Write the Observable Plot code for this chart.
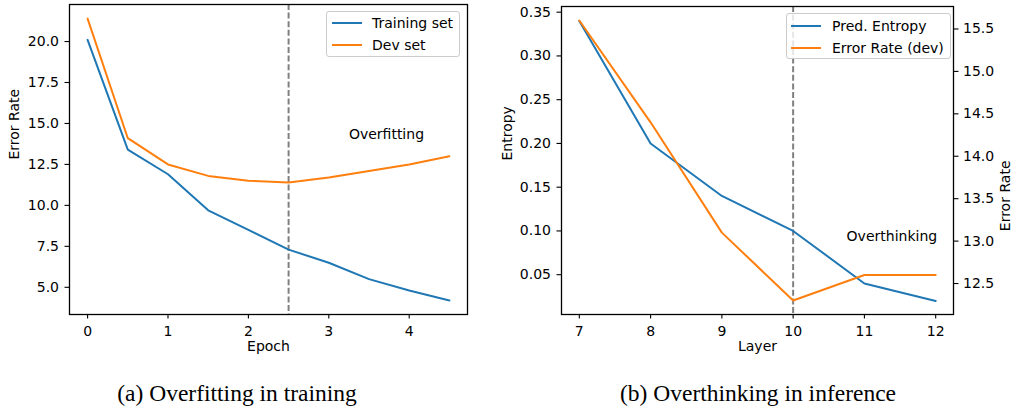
<!DOCTYPE html>
<html>
<head>
<meta charset="utf-8">
<script src="https://cdn.jsdelivr.net/npm/d3@7"></script>
<script src="https://cdn.jsdelivr.net/npm/@observablehq/plot@0.6"></script>
<style>
  html, body { margin: 0; padding: 0; background: #fff; }
  #root { position: relative; width: 1017px; height: 408px; background: #fff; overflow: hidden; font-family: "DejaVu Sans", sans-serif; }
  .panel { position: absolute; top: 0; }
  .legend { position: absolute; box-sizing: border-box; border: 1px solid #cccccc; border-radius: 3px; background: rgba(255,255,255,0.8); font-size: 14px; color: #000; }
  .legend .row { position: absolute; left: 0; height: 20px; line-height: 20px; white-space: nowrap; }
  .legend .sw { position: absolute; width: 30px; height: 2px; top: 9px; }
  .legend .lbl { position: absolute; }
  .caption { position: absolute; font-family: "Liberation Serif", serif; font-size: 23.5px; line-height: 26px; color: #000; white-space: nowrap; transform: translateX(-50%); }
</style>
</head>
<body>
<div id="root">
  <div id="a" class="panel" style="left:0px"></div>
  <div id="b1" class="panel" style="left:490px"></div>
  <div id="b2" class="panel" style="left:490px"></div>
</div>
<script>
// ---- data: panel (a) ----
const epochs = [0, 0.5, 1, 1.5, 2, 2.5, 3, 3.5, 4, 4.5];
const trainErr = [20.1, 13.4, 11.9, 9.7, 8.5, 7.3, 6.5, 5.5, 4.8, 4.2];
const devErr = [21.4, 14.1, 12.5, 11.8, 11.5, 11.4, 11.7, 12.1, 12.5, 13.0];
const epochTicks = [0, 1, 2, 3, 4];
const errTicksA = [5, 7.5, 10, 12.5, 15, 17.5, 20];
const seriesA = ["Training set", "Dev set"];
const overfitEpoch = 2.5;

// ---- data: panel (b) ----
const layers = [7, 8, 9, 10, 11, 12];
const predEntropy = [0.34, 0.20, 0.14, 0.10, 0.04, 0.02];
const layerDevErr = [15.6, 14.4, 13.1, 12.3, 12.6, 12.6];
const layerTicks = [7, 8, 9, 10, 11, 12];
const entropyTicks = [0.05, 0.10, 0.15, 0.20, 0.25, 0.30, 0.35];
const errTicksB = [12.5, 13.0, 13.5, 14.0, 14.5, 15.0, 15.5];
const seriesB = ["Pred. Entropy", "Error Rate (dev)"];
const overthinkLayer = 10;

const captions = ["(a) Overfitting in training", "(b) Overthinking in inference"];
const colors = ["#1f77b4", "#ff7f0e"];

const tableA = epochs.map((e, i) => ({epoch: e, train: trainErr[i], dev: devErr[i]}));
const tableB = layers.map((l, i) => ({layer: l, entropy: predEntropy[i], err: layerDevErr[i]}));

const FS = 14;
const baseStyle = {fontFamily: "DejaVu Sans", fontSize: "14px", color: "#000", background: "transparent", overflow: "visible"};
const H = 360;
const axisCommon = {tickSize: 4.5, label: null, fontSize: FS, fontFamily: "DejaVu Sans", stroke: "#000", strokeWidth: 1.1};

// ---- panel (a) ----
const plotA = Plot.plot({
  width: 480, height: H,
  marginLeft: 69, marginRight: 13, marginTop: 4, marginBottom: 46,
  style: baseStyle,
  x: {domain: [-0.225, 4.725]},
  y: {domain: [3.34, 22.26]},
  marks: [
    Plot.ruleX([overfitEpoch], {stroke: "#808080", strokeWidth: 2, strokeDasharray: "6,2.6"}),
    Plot.line(tableA, {x: "epoch", y: "train", stroke: colors[0], strokeWidth: 2}),
    Plot.line(tableA, {x: "epoch", y: "dev", stroke: colors[1], strokeWidth: 2}),
    Plot.text([{x: 3.25, y: 14.3, t: "Overfitting"}], {x: "x", y: "y", text: "t", textAnchor: "start", fill: "#000", fontSize: FS}),
    Plot.frame({stroke: "#000", strokeWidth: 1.3}),
    Plot.axisX({...axisCommon, ticks: epochTicks, tickPadding: 7, tickFormat: d => String(d)}),
    Plot.axisY({...axisCommon, ticks: errTicksA, tickPadding: 6, tickFormat: d3.format(".1f")}),
    Plot.text(["Epoch"], {frameAnchor: "bottom", dy: 36, fill: "#000", fontSize: FS}),
    Plot.text(["Error Rate"], {frameAnchor: "left", dx: -55, rotate: -90, fill: "#000", fontSize: FS})
  ]
});
document.getElementById("a").appendChild(plotA);

// ---- panel (b), left axis (entropy) ----
const bOpts = {width: 527, height: H, marginLeft: 71, marginRight: 64, marginTop: 6, marginBottom: 46, style: baseStyle};
const plotB1 = Plot.plot({
  ...bOpts,
  x: {domain: [6.75, 12.25]},
  y: {domain: [0.0045, 0.3565]},
  marks: [
    Plot.ruleX([overthinkLayer], {stroke: "#808080", strokeWidth: 2, strokeDasharray: "6,2.6"}),
    Plot.line(tableB, {x: "layer", y: "entropy", stroke: colors[0], strokeWidth: 2}),
    Plot.text([{x: 10.75, y: 0.0934, t: "Overthinking"}], {x: "x", y: "y", text: "t", textAnchor: "start", fill: "#000", fontSize: FS}),
    Plot.frame({stroke: "#000", strokeWidth: 1.3}),
    Plot.axisX({...axisCommon, ticks: layerTicks, tickPadding: 7, tickFormat: d => String(d)}),
    Plot.axisY({...axisCommon, ticks: entropyTicks, tickPadding: 6, tickFormat: d3.format(".2f")}),
    Plot.text(["Layer"], {frameAnchor: "bottom", dy: 36, fill: "#000", fontSize: FS}),
    Plot.text(["Entropy"], {frameAnchor: "left", dx: -54, rotate: -90, fill: "#000", fontSize: FS})
  ]
});
document.getElementById("b1").appendChild(plotB1);

// ---- panel (b), right axis (error rate) ----
const plotB2 = Plot.plot({
  ...bOpts,
  x: {domain: [6.75, 12.25], axis: null},
  y: {domain: [12.135, 15.765], axis: null},
  marks: [
    Plot.line(tableB, {x: "layer", y: "err", stroke: colors[1], strokeWidth: 2}),
    Plot.axisY({...axisCommon, anchor: "right", ticks: errTicksB, tickPadding: 5, tickFormat: d3.format(".1f")}),
    Plot.text(["Error Rate"], {frameAnchor: "right", dx: 52, rotate: -90, fill: "#000", fontSize: FS})
  ]
});
document.getElementById("b2").appendChild(plotB2);

// ---- legends ----
function legend(names, left, top, width, height, swLeft, txtLeft, rowTops) {
  const el = document.createElement("div");
  el.className = "legend";
  Object.assign(el.style, {left: left + "px", top: top + "px", width: width + "px", height: height + "px"});
  names.forEach((n, i) => {
    const row = document.createElement("div");
    row.className = "row";
    row.style.top = rowTops[i] + "px";
    row.style.width = "100%";
    const sw = document.createElement("div");
    sw.className = "sw";
    sw.style.left = swLeft + "px";
    sw.style.background = colors[i];
    const lb = document.createElement("div");
    lb.className = "lbl";
    lb.style.left = txtLeft + "px";
    lb.textContent = n;
    row.appendChild(sw); row.appendChild(lb);
    el.appendChild(row);
  });
  document.getElementById("root").appendChild(el);
}
legend(seriesA, 326, 11, 134, 46, 5, 45, [1, 23]);
legend(seriesB, 786, 13, 165, 46, 4, 45, [2, 23.5]);

// ---- captions ----
[[captions[0], 237], [captions[1], 758]].forEach(([t, cx]) => {
  const c = document.createElement("div");
  c.className = "caption";
  c.style.left = cx + "px";
  c.style.top = "380px";
  c.textContent = t;
  document.getElementById("root").appendChild(c);
});
</script>
</body>
</html>
